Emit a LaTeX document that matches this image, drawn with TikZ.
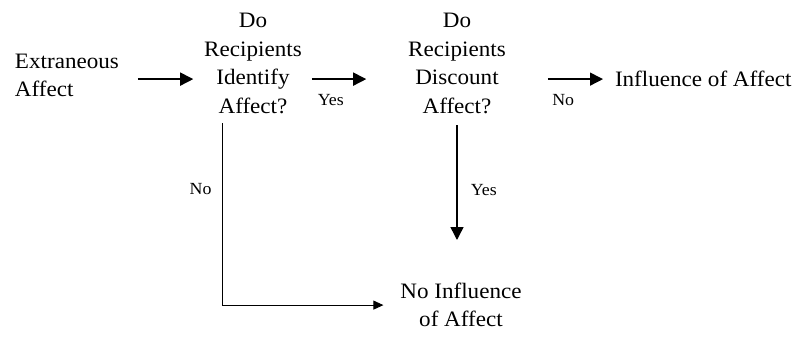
\documentclass[tikz,border=0pt]{standalone}
\usepackage{fontspec}
\setmainfont[FakeStretch=1.05]{Liberation Serif}
\usetikzlibrary{arrows.meta,positioning,calc}

\tikzset{
  box/.style={inner sep=0pt,outer sep=0pt,align=center,font=\fontsize{22}{28.5}\selectfont},
  lbl/.style={inner sep=0pt,font=\fontsize{17}{19}\selectfont},
  arr/.style={line width=1.5pt,-{Triangle[length=13pt,width=13pt]}}
}

\begin{document}
\begin{tikzpicture}[x=1pt,y=1pt]
\useasboundingbox (0,0) rectangle (807,-337);
% the steps
\node[box,align=left,anchor=north west] (extr) at (15,-54) {Extraneous\\Affect};
\node[box,anchor=north] (ident) at (253,-13.5) {Do\\Recipients\\Identify\\Affect?};
\node[box,anchor=north] (disc) at (457,-13.5) {Do\\Recipients\\Discount\\Affect?};
\node[box,anchor=west] (infl) at (615,-78.5) {Influence of Affect};
\node[box,anchor=north] (noinfl) at (461,-283) {No Influence\\of Affect};

% arrows between them
\draw[arr] ($(extr.east |- ident.west)+(19pt,-15.5pt)$) -- ($(ident.west)+(-11pt,-15.5pt)$);
\draw[arr] ($(ident.east)+(10pt,-15.5pt)$) -- ($(disc.west)+(-42pt,-15.5pt)$)
  node[lbl,pos=0.35,below=15pt] {Yes};
\draw[arr] ($(disc.east)+(42pt,-15.5pt)$) -- ($(disc.east -| infl.west)+(-12pt,-15.5pt)$)
  node[lbl,pos=0.28,below=15pt] {No};
\draw[arr] ([yshift=-11.5pt]disc.south) -- ($(disc.south |- noinfl.north)+(0,43pt)$)
  node[lbl,pos=0.565,right=13pt] {Yes};
\draw[line width=0.9pt,-{Triangle[length=10pt,width=9pt]}] ($(ident.south)+(-31pt,-9.5pt)$) |- ($(noinfl.west)+(-17pt,0)$)
  node[lbl,pos=0.18,left=10pt] {No};
\end{tikzpicture}
\end{document}
